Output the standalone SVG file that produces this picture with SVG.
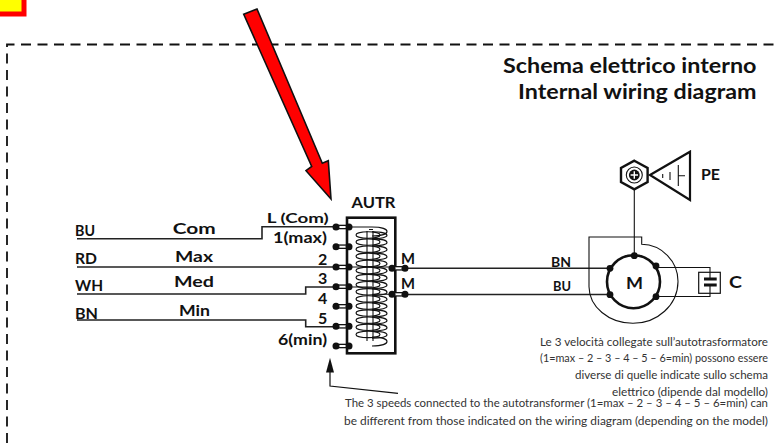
<svg xmlns="http://www.w3.org/2000/svg" xmlns:xlink="http://www.w3.org/1999/xlink" width="775" height="443" viewBox="0 0 775 443">
<style>
text{font-family:"Lato","Open Sans","Liberation Sans",sans-serif;fill:#111}
.b{font-weight:700;font-size:15px}
.d{font-weight:700;font-size:16px}
.t{font-weight:700;font-size:20px}
.s{font-weight:400;font-size:11.5px;fill:#333}
.w{fill:none;stroke:#222;stroke-width:1.6}
.n{fill:none;stroke:#111;stroke-width:1.1}
.c{fill:none;stroke:#111;stroke-width:1.1}
</style>
<defs>
<g id="term"><line x1="0" y1="0" x2="13" y2="0" stroke="#111" stroke-width="4.6"/><line x1="0" y1="0" x2="13" y2="0" stroke="#fff" stroke-width="2"/><circle cx="0" cy="0" r="3.5" fill="#111"/><circle cx="13" cy="0" r="3.5" fill="#111"/></g>
<g id="turn"><ellipse cx="368" cy="0" rx="12" ry="3.2" class="c"/><path d="M372,-3.2C392,-3.2 392,3.9 372,3.9" class="c"/></g>
</defs>
<rect id="marker" x="-4" y="-4" width="28" height="18" fill="#ff0" stroke="#f00" stroke-width="5"/>
<path id="frame" d="M7,443V44.5H775" fill="none" stroke="#111" stroke-width="1.8" stroke-dasharray="10 6.5"/>
<g id="connectors">
<path class="w" d="M77,238.700H262V226.700H336"/>
<path class="w" d="M77,267H336"/>
<path class="w" d="M77,294H305.700V287H336"/>
<path class="w" d="M77,320H305.700V326.700H336"/>
<path class="w" d="M405,268.300H610"/>
<path class="w" d="M405,294.500H610"/>
<path class="n" d="M634.300,189V256"/>
<path class="n" d="M656,267.500H710V279M656,296.500H710V285"/>
<path d="M330,372V386L398,393.300" fill="none" stroke="#111" stroke-width="1.200"/>
<path d="M330,357.700L334,372.500H326Z" fill="#111"/>
</g>
<g id="autotransformer">
<rect x="347" y="217.700" width="48.300" height="135.600" fill="#fff" stroke="#111" stroke-width="2.600"/>
<path class="c" d="M349,227H372C392,227 392,236 372,236M372,346C392,346 392,337 372,337"/>
<path class="c" d="M367,231V341M373,231V341M369,229.500H373"/>
<g id="coil">
<use xlink:href="#turn" y="235"/><use xlink:href="#turn" y="242.100"/><use xlink:href="#turn" y="249.200"/><use xlink:href="#turn" y="256.300"/><use xlink:href="#turn" y="263.400"/><use xlink:href="#turn" y="270.500"/><use xlink:href="#turn" y="277.600"/><use xlink:href="#turn" y="284.700"/><use xlink:href="#turn" y="291.800"/><use xlink:href="#turn" y="298.900"/><use xlink:href="#turn" y="306"/><use xlink:href="#turn" y="313.100"/><use xlink:href="#turn" y="320.200"/><use xlink:href="#turn" y="327.300"/><use xlink:href="#turn" y="334.400"/>
</g>
<path class="n" d="M349,267H392M349,287H372M372,294.300H392"/>
<use xlink:href="#term" x="336" y="227"/><use xlink:href="#term" x="336" y="246.700"/><use xlink:href="#term" x="336" y="267"/><use xlink:href="#term" x="336" y="286.700"/><use xlink:href="#term" x="336" y="306.300"/><use xlink:href="#term" x="336" y="326.300"/><use xlink:href="#term" x="336" y="346"/>
<use xlink:href="#term" x="392" y="268.300"/><use xlink:href="#term" x="392" y="294.300"/>
<text class="d" x="351.500" y="208" textLength="44" lengthAdjust="spacingAndGlyphs">AUTR</text>
</g>
<g id="motor">
<path class="n" d="M641.700,244.300V237H589V286.700A44,37 0 0 0 632.700,323.300A45,42 0 0 0 678,281.700A37,37 0 0 0 641.700,244.300Z"/>
<circle cx="633.500" cy="281.700" r="26.500" fill="#fff" stroke="#111" stroke-width="2.600"/>
<circle cx="634.300" cy="255.700" r="3.400" fill="#111"/><circle cx="610" cy="268.300" r="3.400" fill="#111"/><circle cx="610" cy="294.700" r="3.400" fill="#111"/><circle cx="656" cy="266" r="3.400" fill="#111"/><circle cx="656" cy="296.700" r="3.400" fill="#111"/>
<text class="b" x="626" y="289" style="font-size:17px" textLength="17" lengthAdjust="spacingAndGlyphs">M</text>
</g>
<g id="capacitor">
<rect x="698.700" y="272.300" width="21.600" height="21" fill="none" stroke="#111" stroke-width="1.200"/>
<path d="M704,279H716.700M704,285H716.700" stroke="#111" stroke-width="2.800"/>
<text class="b" x="729" y="288" style="font-size:17px" textLength="13" lengthAdjust="spacingAndGlyphs">C</text>
</g>
<g id="pe">
<path d="M634.300,160.700L647.600,168V182L634.300,189.300L621,182V168Z" fill="#fff" stroke="#111" stroke-width="2.400"/>
<circle cx="634.300" cy="175" r="8" fill="none" stroke="#111" stroke-width="1.100"/>
<circle cx="634.300" cy="175" r="5.400" fill="#111"/>
<path d="M630.600,175H638M634.300,171.300V178.700" stroke="#fff" stroke-width="1.400"/>
<path d="M650,175L690,151.700V200Z" fill="#fff" stroke="#111" stroke-width="2.200"/>
<path d="M678.300,165V186M678.300,175.700H685M670,172V180M662.700,174V178" fill="none" stroke="#111" stroke-width="1.100"/>
<text class="d" x="701" y="180" textLength="19" lengthAdjust="spacingAndGlyphs">PE</text>
</g>
<g id="red-arrow">
<path d="M243.700,14.300L257,9L322.300,163.300L328.300,160.700L331,199L306,170.700L311.700,166.500Z" fill="#f00" stroke="#111" stroke-width="1.600"/>
</g>
<g id="labels">
<text class="t" x="503" y="72.700" textLength="253.500" lengthAdjust="spacingAndGlyphs">Schema elettrico interno</text>
<text class="t" x="518" y="99.300" textLength="238.500" lengthAdjust="spacingAndGlyphs">Internal wiring diagram</text>
<text class="d" x="75" y="236" textLength="20" lengthAdjust="spacingAndGlyphs">BU</text>
<text class="d" x="75" y="264" textLength="22" lengthAdjust="spacingAndGlyphs">RD</text>
<text class="d" x="75" y="290.700" textLength="28" lengthAdjust="spacingAndGlyphs">WH</text>
<text class="d" x="75" y="318.700" textLength="23" lengthAdjust="spacingAndGlyphs">BN</text>
<text class="d" x="172.700" y="234" textLength="43" lengthAdjust="spacingAndGlyphs">Com</text>
<text class="d" x="175" y="262" textLength="38" lengthAdjust="spacingAndGlyphs">Max</text>
<text class="d" x="174" y="287" textLength="40" lengthAdjust="spacingAndGlyphs">Med</text>
<text class="d" x="179" y="315.700" textLength="31" lengthAdjust="spacingAndGlyphs">Min</text>
<text class="b" x="266.700" y="223" style="font-size:14px" textLength="62" lengthAdjust="spacingAndGlyphs">L (Com)</text>
<text class="b" x="273" y="243" textLength="54" lengthAdjust="spacingAndGlyphs">1(max)</text>
<text class="d" x="318" y="265">2</text>
<text class="d" x="318" y="284">3</text>
<text class="d" x="318" y="304">4</text>
<text class="d" x="318" y="324">5</text>
<text class="b" x="278" y="345" textLength="49" lengthAdjust="spacingAndGlyphs">6(min)</text>
<text class="d" x="401" y="264" textLength="14" lengthAdjust="spacingAndGlyphs">M</text>
<text class="d" x="401" y="289" textLength="14" lengthAdjust="spacingAndGlyphs">M</text>
<text class="b" x="551" y="266.700" style="font-size:14px" textLength="20" lengthAdjust="spacingAndGlyphs">BN</text>
<text class="b" x="553" y="291" style="font-size:14px" textLength="18" lengthAdjust="spacingAndGlyphs">BU</text>
<text class="s" x="540" y="345.700" textLength="228" lengthAdjust="spacingAndGlyphs">Le 3 velocità collegate sull’autotrasformatore</text>
<text class="s" x="540" y="362" textLength="228" lengthAdjust="spacingAndGlyphs">(1=max – 2 – 3 – 4 – 5 – 6=min) possono essere</text>
<text class="s" x="575" y="379" textLength="193" lengthAdjust="spacingAndGlyphs">diverse di quelle indicate sullo schema</text>
<text class="s" x="612" y="395.500" textLength="156" lengthAdjust="spacingAndGlyphs">elettrico (dipende dal modello)</text>
<text class="s" x="345" y="407" textLength="423" lengthAdjust="spacingAndGlyphs">The 3 speeds connected to the autotransformer (1=max – 2 – 3 – 4 – 5 – 6=min) can</text>
<text class="s" x="344" y="425" textLength="424" lengthAdjust="spacingAndGlyphs">be different from those indicated on the wiring diagram (depending on the model)</text>
</g>
</svg>
